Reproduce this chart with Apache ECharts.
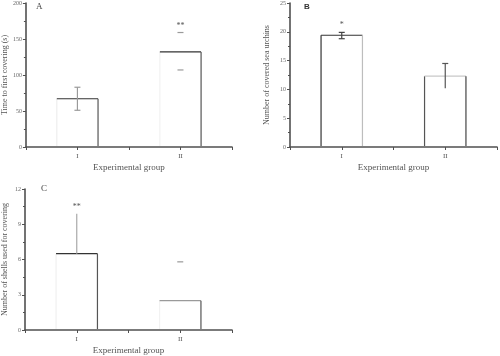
<!DOCTYPE html>
<html><head><meta charset="utf-8">
<script src="https://cdn.jsdelivr.net/npm/echarts@6/dist/echarts.min.js"></script>
<style>html,body{margin:0;padding:0;background:#fff}#c{width:500px;height:356px}</style>
</head><body><div id="c"></div>
<script>
// ---- data ----
const categories = ['I', 'II'];
const xTitle = 'Experimental group';

const timeTitle = 'Time to first covering (s)';
const timeTicks = [0, 50, 100, 150, 200];
const timeMean = [67, 132];
const timeHigh = [83, 159];
const timeLow = [51, 107];
const timeSig = ['', '**'];

const urchinTitle = 'Number of covered sea urchins';
const urchinTicks = [0, 5, 10, 15, 20, 25];
const urchinMean = [19.4, 12.3];
const urchinHigh = [19.9, 14.5];
const urchinLow = [18.8, 10.2];
const urchinSig = ['*', ''];

const shellTitle = 'Number of shells used for covering';
const shellTicks = [0, 3, 6, 9, 12];
const shellMean = [6.5, 2.5];
const shellHigh = [9.9, 5.8];
const shellLow = [6.5, 5.8];
const shellSig = ['**', ''];

// ---- styles ----
const DARK = '#333', AX = '#505050';
const styleA = [
  {left: '#eeeeee', top: DARK, right: '#555', err: '#9a9a9a', errLine: true, capLo: true, capHi: true},
  {left: '#f2f2f2', top: DARK, right: '#555', err: '#9a9a9a', errLine: false, capLo: true, capHi: true}
];
const styleB = [
  {left: DARK, top: DARK, right: '#bdbdbd', err: '#444', errLine: true, capLo: true, capHi: true},
  {left: '#555', top: '#c8c8c8', right: '#444', err: '#555', errLine: true, capLo: false, capHi: true}
];
const styleC = [
  {left: '#f0f0f0', top: DARK, right: '#555', err: '#a8a8a8', errLine: true, capLo: false, capHi: false},
  {left: '#f2f2f2', top: '#9a9a9a', right: '#555', err: '#999', errLine: false, capLo: false, capHi: true}
];

const FONT = 'Liberation Serif';

function barSeries(idx, means, highs, lows, sigs, styles) {
  return {
    type: 'custom', xAxisIndex: idx, yAxisIndex: idx,
    data: means.map((m, i) => [i + 1, m, highs[i], lows[i], i]),
    renderItem: function (params, api) {
      const x = api.value(0), m = api.value(1), hi = api.value(2), lo = api.value(3), i = api.value(4);
      const st = styles[i];
      const p = api.coord([x, m]);
      const p0 = api.coord([x, 0]);
      const w = api.size([0.4, 0])[0];
      const xl = p[0] - w / 2, xr = p[0] + w / 2, yt = p[1], yb = p0[1] - 1;
      const ph = api.coord([x, hi]), pl = api.coord([x, lo]);
      const cap = 3;
      const ch = [
        {type: 'rect', shape: {x: xl, y: yt, width: w, height: yb - yt}, style: {fill: '#fff'}},
        {type: 'line', shape: {x1: xl, y1: yb, x2: xl, y2: yt}, style: {stroke: st.left, lineWidth: 1.2}},
        {type: 'line', shape: {x1: xl, y1: yt, x2: xr, y2: yt}, style: {stroke: st.top, lineWidth: 1.2}},
        {type: 'line', shape: {x1: xr, y1: yt, x2: xr, y2: yb}, style: {stroke: st.right, lineWidth: 1.2}}
      ];
      if (st.errLine) ch.push({type: 'line', shape: {x1: p[0], y1: ph[1], x2: p[0], y2: pl[1]}, style: {stroke: st.err, lineWidth: 1.2}});
      if (st.capHi) ch.push({type: 'line', shape: {x1: p[0] - cap, y1: ph[1], x2: p[0] + cap, y2: ph[1]}, style: {stroke: st.err, lineWidth: 1.2}});
      if (st.capLo) ch.push({type: 'line', shape: {x1: p[0] - cap, y1: pl[1], x2: p[0] + cap, y2: pl[1]}, style: {stroke: st.err, lineWidth: 1.2}});
      if (sigs[i]) ch.push({type: 'text', style: {text: sigs[i], x: p[0], y: ph[1] - 3, align: 'center', verticalAlign: 'bottom', fill: '#555', font: '8px "' + FONT + '"'}});
      return {type: 'group', children: ch};
    }
  };
}

function xAxis(idx) {
  return {
    type: 'value', gridIndex: idx, min: 0.5, max: 2.5, interval: 0.5,
    name: xTitle, nameLocation: 'middle', nameGap: 16,
    nameTextStyle: {fontFamily: FONT, fontSize: 9, color: '#555'},
    axisLine: {lineStyle: {color: AX, width: 1.6}},
    axisTick: {length: 3, lineStyle: {color: AX}},
    axisLabel: {fontFamily: FONT, fontSize: 7, color: '#555', margin: 6,
      formatter: v => (Math.abs(v - Math.round(v)) < 1e-6 && categories[v - 1]) ? categories[v - 1] : ''},
    splitLine: {show: false}
  };
}
function yAxis(idx, ticks, title, gap) {
  return {
    type: 'value', gridIndex: idx, min: ticks[0], max: ticks[ticks.length - 1],
    interval: ticks[1] - ticks[0],
    name: title, nameLocation: 'middle', nameGap: gap,
    nameTextStyle: {fontFamily: FONT, fontSize: 8, color: '#555'},
    axisLine: {show: true, lineStyle: {color: AX, width: 1.6}},
    axisTick: {show: true, length: 3, lineStyle: {color: AX}},
    minorTick: {show: true, splitNumber: 2, length: 2, lineStyle: {color: AX}},
    axisLabel: {fontFamily: FONT, fontSize: 6, color: '#666', margin: 4},
    splitLine: {show: false}
  };
}

const chart = echarts.init(document.getElementById('c'), null, {renderer: 'canvas'});
chart.setOption({
  animation: false,
  backgroundColor: '#fff',
  grid: [
    {left: 23, top: 3, width: 209, height: 144},
    {left: 290, top: 3, width: 208, height: 144},
    {left: 23, top: 189, width: 209, height: 143}
  ],
  xAxis: [xAxis(0), xAxis(1), xAxis(2)],
  yAxis: [yAxis(0, timeTicks, timeTitle, 16), yAxis(1, urchinTicks, urchinTitle, 19), yAxis(2, shellTicks, shellTitle, 16)],
  graphic: [
    {type: 'text', left: 36, top: 2, style: {text: 'A', font: '9px "' + FONT + '"', fill: '#444'}},
    {type: 'text', left: 304, top: 3, style: {text: 'B', font: 'bold 8px "Liberation Sans"', fill: '#333'}},
    {type: 'text', left: 41, top: 184, style: {text: 'C', font: '9px "' + FONT + '"', fill: '#444'}}
  ],
  series: [
    barSeries(0, timeMean, timeHigh, timeLow, timeSig, styleA),
    barSeries(1, urchinMean, urchinHigh, urchinLow, urchinSig, styleB),
    barSeries(2, shellMean, shellHigh, shellLow, shellSig, styleC)
  ]
});
</script></body></html>
